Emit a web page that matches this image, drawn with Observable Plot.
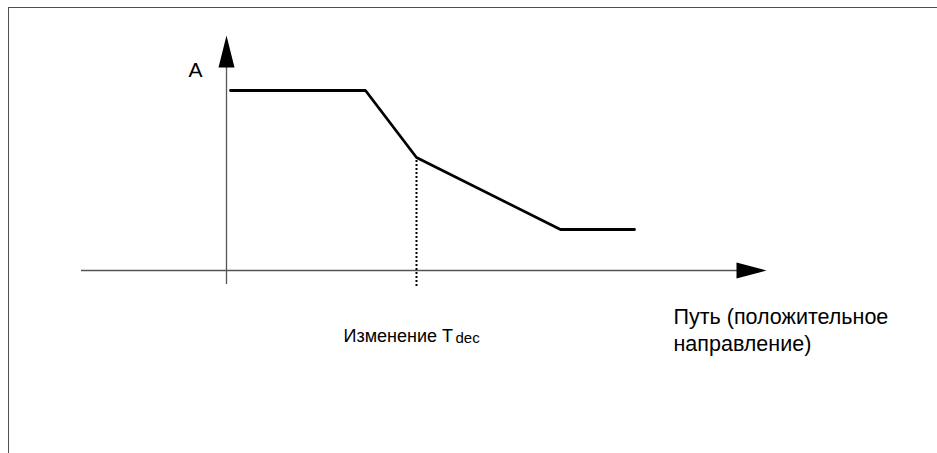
<!DOCTYPE html>
<html><head><meta charset="utf-8">
<script src="https://cdn.jsdelivr.net/npm/d3@7"></script>
<script src="https://cdn.jsdelivr.net/npm/@observablehq/plot@0.6"></script>
<style>
body{margin:0;background:#fff;}
#wrap{position:relative;width:937px;height:453px;overflow:hidden;}
#frame{position:absolute;left:7.5px;top:7px;width:1000px;height:1000px;border-top:1.5px solid #505050;border-left:1.5px solid #505050;pointer-events:none;}
</style></head><body><div id="wrap"><div id="chart"></div><div id="frame"></div></div>
<script>
// Path position (abstract units) and amplitude A along the path
const pathPos   = [0.1, 3.475, 4.75, 8.35, 10.2];
const amplitude = [4.5, 4.5, 2.825, 1.025, 1.025];
// Point where Tdec changes
const tdecChangeIndex = 2;
// Labels
const yLabel = "A";
const xLabel = "Путь (положительное\nнаправление)";
const changeLabel = "Изменение T";
const changeSub = "dec";

const data = pathPos.map((x, i) => ({x, a: amplitude[i]}));
const font = "'Liberation Sans', Arial, sans-serif";

const arrowUp = {draw(ctx){ctx.moveTo(0,-16);ctx.lineTo(8,16);ctx.lineTo(-8,16);ctx.closePath();}};
const arrowRight = {draw(ctx){ctx.moveTo(15,0);ctx.lineTo(-15,-8);ctx.lineTo(-15,8);ctx.closePath();}};

const chart = Plot.plot({
  width: 937, height: 453,
  margin: 0,
  style: {fontFamily: font, background: "transparent", overflow: "visible"},
  x: {domain: [-5.65, 17.775], axis: null},
  y: {domain: [-4.575, 6.75], axis: null},
  marks: [
    Plot.ruleY([0], {x1: -3.625, x2: 13, stroke: "#555", strokeWidth: 1.3}),
    Plot.ruleX([0], {y1: -0.35, y2: 5.1, stroke: "#555", strokeWidth: 1.3}),
    Plot.dot([{x: 0, y: 5.475}], {x: "x", y: "y", symbol: arrowUp, fill: "#000", stroke: null}),
    Plot.dot([{x: 13.125, y: 0}], {x: "x", y: "y", symbol: arrowRight, fill: "#000", stroke: null}),
    Plot.ruleX([data[tdecChangeIndex]], {x: "x", y1: -0.4, y2: "a", stroke: "#000", strokeWidth: 2, strokeDasharray: "2,2"}),
    Plot.line(data, {x: "x", y: "a", stroke: "#000", strokeWidth: 2.8, strokeLinejoin: "miter"}),
    Plot.text([yLabel], {x: -0.6, y: 4.85, text: d => d, textAnchor: "end", lineAnchor: "bottom", fontSize: 21, fill: "#000"}),
    Plot.text([xLabel], {x: 11.175, y: -2.0, text: d => d, textAnchor: "start", lineAnchor: "bottom", lineHeight: 1.256, fontSize: 21.5, fill: "#000"}),
    Plot.text([changeLabel], {x: 2.925, y: -1.775, text: d => d, textAnchor: "start", lineAnchor: "bottom", fontSize: 18, fill: "#000"}),
    Plot.text([changeSub], {x: 5.725, y: -1.8, text: d => d, textAnchor: "start", lineAnchor: "bottom", fontSize: 15, fill: "#000"})
  ]
});
document.getElementById("chart").appendChild(chart);
</script>
</body></html>
